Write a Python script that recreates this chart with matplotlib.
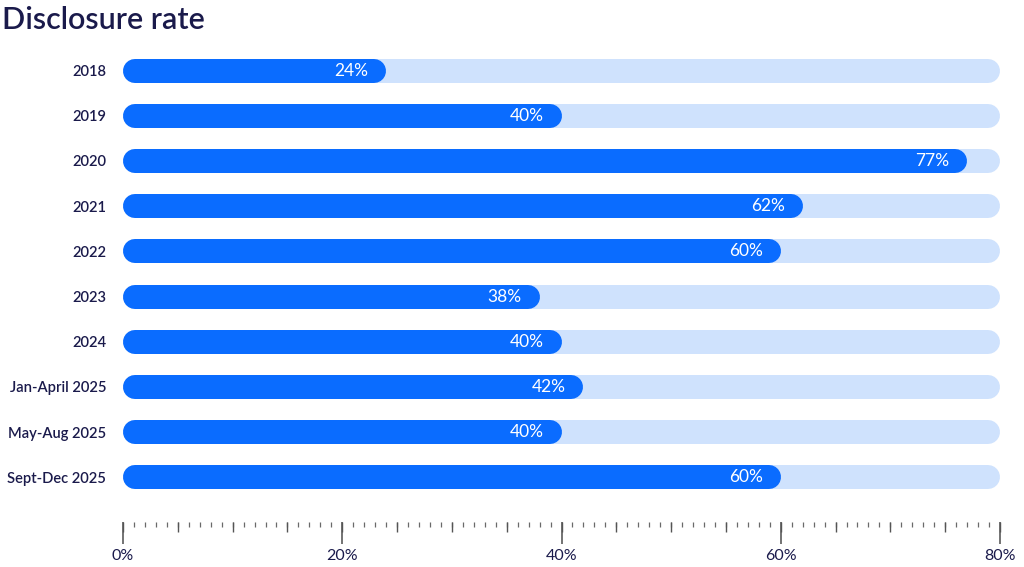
import matplotlib.pyplot as plt
from matplotlib.ticker import MultipleLocator, FuncFormatter, NullFormatter

# data
periods = ["2018", "2019", "2020", "2021", "2022", "2023", "2024",
           "Jan-April 2025", "May-Aug 2025", "Sept-Dec 2025"]
rates = [24, 40, 77, 62, 60, 38, 40, 42, 40, 60]
axis_max = 80

blue = "#0a6cff"
light = "#cfe2fd"
navy = "#1a1a4b"

plt.rcParams['font.family'] = ['Lato', 'DejaVu Sans']

W, H, dpi = 1024, 567, 100
fig = plt.figure(figsize=(W / dpi, H / dpi), dpi=dpi)
# axes box in pixels: left 123, right 1000, top 48, bottom 500
left, right, top, bottom = 123, 1000, 48, 500
ax = fig.add_axes([left / W, 1 - bottom / H, (right - left) / W, (bottom - top) / H])
ax.set_xlim(0, axis_max)
ax.set_ylim(len(periods) - 0.5, -0.5)

# bars drawn as thick round-capped lines
bar_px = 24
lw = bar_px * 72 / dpi
cap = (bar_px / 2) * axis_max / (right - left)  # half cap in data units

for i, (p, v) in enumerate(zip(periods, rates)):
    ax.plot([cap, axis_max - cap], [i, i], color=light, lw=lw,
            solid_capstyle='round', zorder=1)
    ax.plot([cap, v - cap], [i, i], color=blue, lw=lw,
            solid_capstyle='round', zorder=2)
    ax.annotate(f"{v}%", xy=(v, i), xytext=(-13, 0), textcoords='offset points',
                ha='right', va='center', color='white', fontsize=12.5, zorder=3)

ax.set_yticks(range(len(periods)))
ax.set_yticklabels(periods)
ax.tick_params(axis='y', length=0, pad=12, labelsize=10.6, labelcolor=navy)
for lab in ax.get_yticklabels():
    lab.set_fontweight('semibold')

# x axis: long ticks every 20, short every 1
ax.xaxis.set_major_locator(MultipleLocator(20))
ax.xaxis.set_minor_locator(MultipleLocator(1))
ax.xaxis.set_major_formatter(FuncFormatter(lambda x, pos: f"{x:.0f}%"))
ax.spines['bottom'].set_position(('outward', 16))
for s in ax.spines.values():
    s.set_visible(False)
ax.tick_params(axis='x', which='major', length=16, width=1.1, color='#4d4d4d',
               labelsize=11.5, labelcolor=navy, pad=3)
ax.tick_params(axis='x', which='minor', length=3.6, width=0.9, color='#6a6a6a')

# medium ticks every 5 on a twin axis at the same place
ax2 = ax.twiny()
ax2.set_xlim(ax.get_xlim())
ax2.xaxis.set_ticks_position('bottom')
ax2.spines['bottom'].set_position(('outward', 16))
for s in ax2.spines.values():
    s.set_visible(False)
ax2.xaxis.set_major_locator(MultipleLocator(5))
ax2.xaxis.set_major_formatter(NullFormatter())
ax2.tick_params(axis='x', which='major', length=7.2, width=1.0, color='#555555')

fig.text(2 / W, 1 - 20 / H, "Disclosure rate", ha='left', va='center',
         fontsize=22, fontweight='semibold', color=navy)

fig.savefig("out.png", dpi=dpi)
